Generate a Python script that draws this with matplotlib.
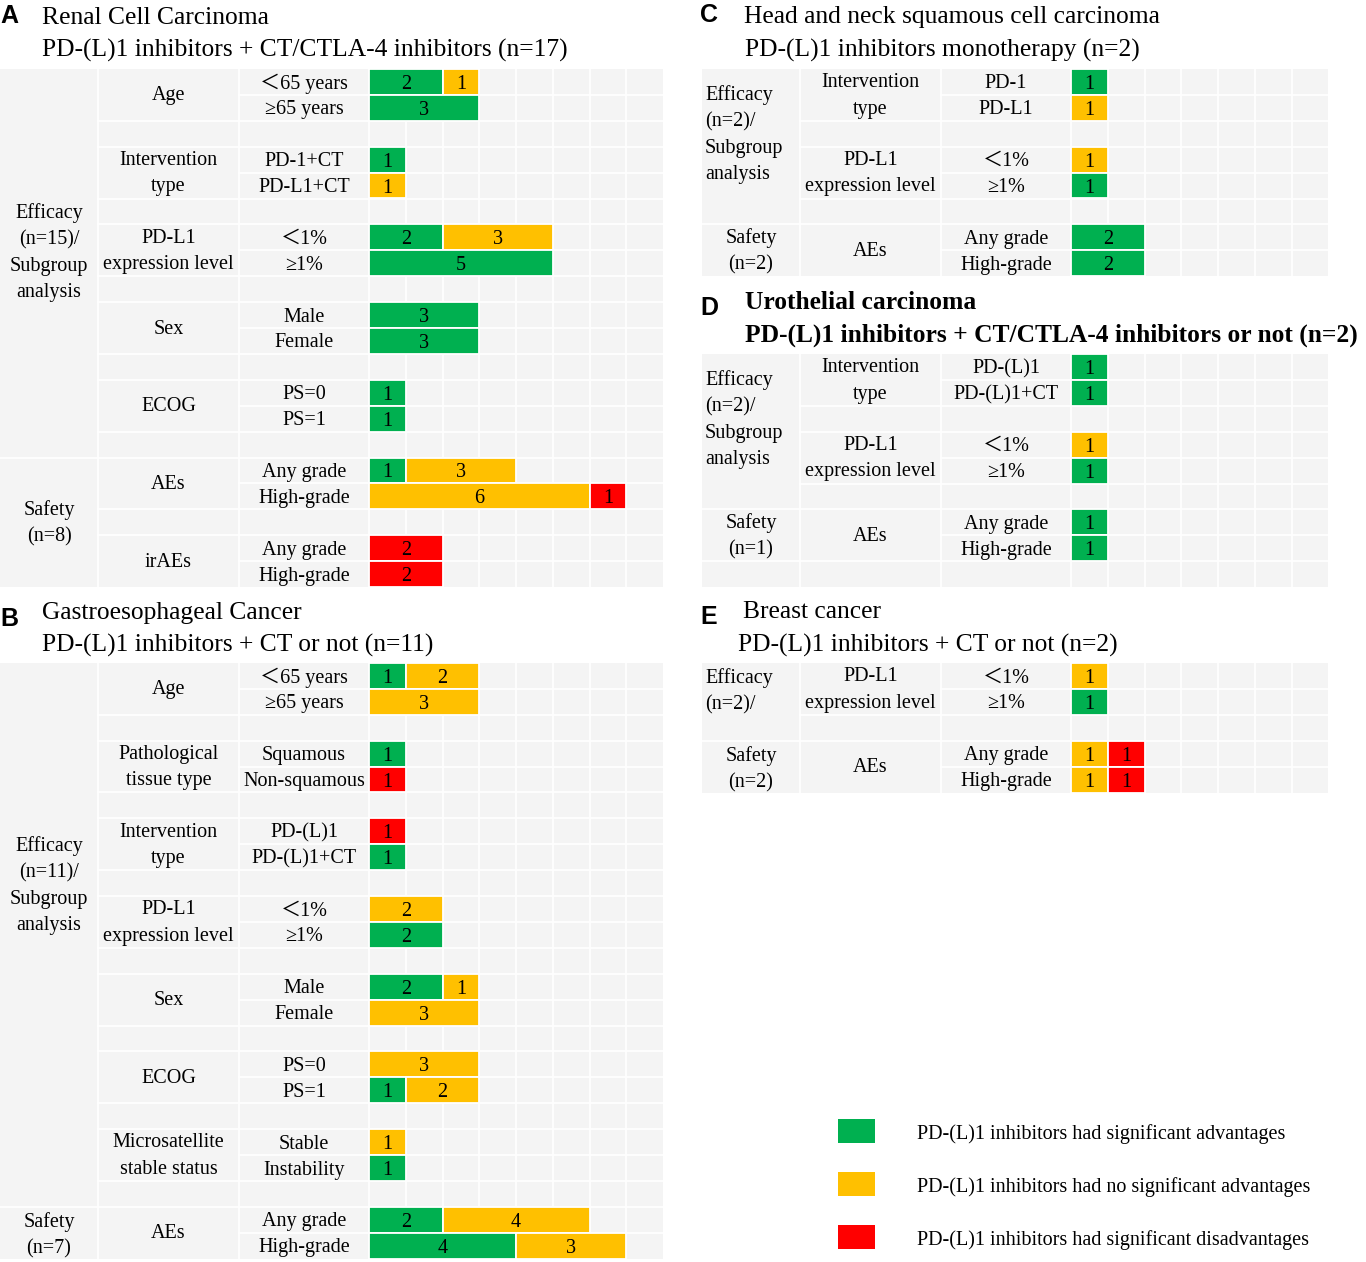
import matplotlib
matplotlib.use("Agg")
import matplotlib.pyplot as plt
from matplotlib.patches import Rectangle
import numpy as np

# ---- data ----
COLORS = {"G": "#00b050", "Y": "#ffc000", "R": "#ff0000"}

A_groups = ["Age", "Intervention\ntype", "PD-L1\nexpression level", "Sex", "ECOG", "AEs", "irAEs"]
A_levels = [["＜65 years", "≥65 years"], ["PD-1+CT", "PD-L1+CT"], ["＜1%", "≥1%"], ["Male", "Female"],
            ["PS=0", "PS=1"], ["Any grade", "High-grade"], ["Any grade", "High-grade"]]
A_values = [[2, 1], [3], [1], [1], [2, 3], [5], [3], [3], [1], [1], [1, 3], [6, 1], [2], [2]]
A_colors = ["GY", "G", "G", "Y", "GY", "G", "G", "G", "G", "G", "GY", "YR", "R", "R"]
A_sections = ["Efficacy\n(n=15)/\nSubgroup\nanalysis", "Safety\n(n=8)"]

B_groups = ["Age", "Pathological\ntissue type", "Intervention\ntype", "PD-L1\nexpression level", "Sex", "ECOG",
            "Microsatellite\nstable status", "AEs"]
B_levels = [["＜65 years", "≥65 years"], ["Squamous", "Non-squamous"], ["PD-(L)1", "PD-(L)1+CT"], ["＜1%", "≥1%"],
            ["Male", "Female"], ["PS=0", "PS=1"], ["Stable", "Instability"], ["Any grade", "High-grade"]]
B_values = [[1, 2], [3], [1], [1], [1], [1], [2], [2], [2, 1], [3], [3], [1, 2], [1], [1], [2, 4], [4, 3]]
B_colors = ["GY", "Y", "G", "R", "R", "G", "Y", "G", "GY", "Y", "Y", "GY", "Y", "G", "GY", "GY"]
B_sections = ["Efficacy\n(n=11)/\nSubgroup\nanalysis", "Safety\n(n=7)"]

C_groups = ["Intervention\ntype", "PD-L1\nexpression level", "AEs"]
C_levels = [["PD-1", "PD-L1"], ["＜1%", "≥1%"], ["Any grade", "High-grade"]]
C_values = [[1], [1], [1], [1], [2], [2]]
C_colors = ["G", "Y", "Y", "G", "G", "G"]
C_sections = ["Efficacy\n(n=2)/\nSubgroup\nanalysis", "Safety\n(n=2)"]

D_groups = ["Intervention\ntype", "PD-L1\nexpression level", "AEs"]
D_levels = [["PD-(L)1", "PD-(L)1+CT"], ["＜1%", "≥1%"], ["Any grade", "High-grade"]]
D_values = [[1], [1], [1], [1], [1], [1]]
D_colors = ["G", "G", "Y", "G", "G", "G"]
D_sections = ["Efficacy\n(n=2)/\nSubgroup\nanalysis", "Safety\n(n=1)"]

E_groups = ["PD-L1\nexpression level", "AEs"]
E_levels = [["＜1%", "≥1%"], ["Any grade", "High-grade"]]
E_values = [[1], [1], [1, 1], [1, 1]]
E_colors = ["Y", "G", "YR", "YR"]
E_sections = ["Efficacy\n(n=2)/", "Safety\n(n=2)"]

legend_labels = ["PD-(L)1 inhibitors had significant advantages",
                 "PD-(L)1 inhibitors had no significant advantages",
                 "PD-(L)1 inhibitors had significant disadvantages"]

# ---- layout ----
W, H = 1366, 1262
fig = plt.figure(figsize=(W / 100, H / 100), dpi=100)
SERIF = ["Liberation Serif", "Noto Sans CJK SC"]
GREY = "#f4f4f4"
U = 36.75     # px per count
RH = 25.9     # px per row
COLW = [98, 141, 130]
FS = 14.5
TFS = 18.4
LS = 1.52


def px_axes(x0, y0, w, h):
    return fig.add_axes([x0 / W, 1 - (y0 + h) / H, w / W, h / H])


def draw_table(x0, y0, ncols, groups, levels, values, colors, sections, sec_rows, sec_bounds,
               aligns=("center", "center"), trailing=0):
    nrows = 3 * len(groups) - 1 + trailing
    label_w = sum(COLW)
    ax = px_axes(x0, y0, label_w + ncols * U, nrows * RH)
    xl = -label_w / U
    c1 = xl + COLW[0] / U
    c2 = c1 + COLW[1] / U
    ax.set_xlim(xl, ncols)
    ax.set_ylim(nrows, 0)
    ax.axis("off")
    ax.add_patch(Rectangle((xl, 0), ncols - xl, nrows, fc=GREY, ec="none", zorder=0))
    for xv in [c1, c2, 0] + list(range(1, ncols)):
        ax.plot([xv, xv], [0, nrows], color="white", lw=1.3, zorder=1)
    for r in range(1, nrows):
        ax.plot([c2, ncols], [r, r], color="white", lw=1.3, zorder=1)
        if r % 3 != 1 or r >= 3 * len(groups):
            ax.plot([c1, c2], [r, r], color="white", lw=1.3, zorder=1)
        if r in sec_bounds:
            ax.plot([xl, c1], [r, r], color="white", lw=1.3, zorder=1)

    for k, g in enumerate(groups):
        ax.text((c1 + c2) / 2, 3 * k + 1.04, g, ha="center", va="center", fontsize=FS,
                family=SERIF, linespacing=LS)
    for i, (vals, cols) in enumerate(zip(values, colors)):
        row = 3 * (i // 2) + i % 2
        ax.text(c2 / 2, row + 0.48, levels[i // 2][i % 2], ha="center", va="center_baseline",
                fontsize=FS, family=SERIF)
        left = 0
        for v, c in zip(vals, cols):
            ax.barh(row + 0.5, v, left=left, height=1, color=COLORS[c], edgecolor="white",
                    linewidth=1.3, zorder=2)
            ax.text(left + v / 2, row + 0.5, str(v), ha="center", va="center_baseline", fontsize=FS,
                    family=SERIF, zorder=3)
            left += v
    for s, yr, al in zip(sections, sec_rows, aligns):
        if al == "center":
            ax.text((xl + c1) / 2, yr + 0.04, s, ha="center", va="center", fontsize=FS, family=SERIF,
                    linespacing=LS)
        else:
            ax.text(xl + 3 / U, yr + 0.04, s, ha="left", va="center", fontsize=FS, family=SERIF,
                    linespacing=LS)
    return ax


def title(letter, lx, ly, l1, l2, x1, x2, y1, y2, bold=False, size=TFS):
    fig.text(lx / W, 1 - ly / H, letter, fontsize=18, fontweight="bold", family="Liberation Sans",
             ha="left", va="center")
    w = "bold" if bold else "normal"
    fig.text(x1 / W, 1 - y1 / H, l1, fontsize=size, family=SERIF, fontweight=w, ha="left", va="center_baseline")
    fig.text(x2 / W, 1 - y2 / H, l2, fontsize=size, family=SERIF, fontweight=w, ha="left", va="center_baseline")


RIGHT_ALIGN = ("left", "center")

# panel A
title("A", 0, 16, "Renal Cell Carcinoma", "PD-(L)1 inhibitors + CT/CTLA-4 inhibitors (n=17)", 42, 42, 15, 48)
draw_table(0, 69, 8, A_groups, A_levels, A_values, A_colors, A_sections, [7.05, 17.5], [15])

# panel B
title("B", 0, 619, "Gastroesophageal Cancer", "PD-(L)1 inhibitors + CT or not (n=11)", 42, 42, 610, 643)
draw_table(0, 663, 8, B_groups, B_levels, B_values, B_colors, B_sections, [8.55, 22.05], [21])

# panel C
title("C", 700, 15, "Head and neck squamous cell carcinoma", "PD-(L)1 inhibitors monotherapy (n=2)",
      744, 745, 14, 48)
draw_table(702, 69, 7, C_groups, C_levels, C_values, C_colors, C_sections, [2.5, 7.0], [6],
           aligns=RIGHT_ALIGN)

# panel D
title("D", 700, 308, "Urothelial carcinoma", "PD-(L)1 inhibitors + CT/CTLA-4 inhibitors or not (n=2)",
      745, 745, 300, 333, bold=True, size=18.4)
draw_table(702, 354, 7, D_groups, D_levels, D_values, D_colors, D_sections, [2.5, 7.0], [6, 8],
           aligns=RIGHT_ALIGN, trailing=1)

# panel E
title("E", 700, 617, "Breast cancer", "PD-(L)1 inhibitors + CT or not (n=2)", 743, 738, 609, 643)
draw_table(702, 663, 7, E_groups, E_levels, E_values, E_colors, E_sections, [1.04, 4.05], [3],
           aligns=RIGHT_ALIGN)

# legend
lax = px_axes(820, 1100, 546, 162)
lax.set_xlim(820, 1366)
lax.set_ylim(1262, 1100)
lax.axis("off")
for i, (lab, c) in enumerate(zip(legend_labels, "GYR")):
    yc = 1131 + i * 53
    lax.add_patch(Rectangle((838, yc - 12), 37, 24, fc=COLORS[c], ec="none"))
    lax.text(917, yc + 1, lab, ha="left", va="center_baseline", fontsize=FS, family=SERIF)

fig.savefig("out.png", dpi=100)
